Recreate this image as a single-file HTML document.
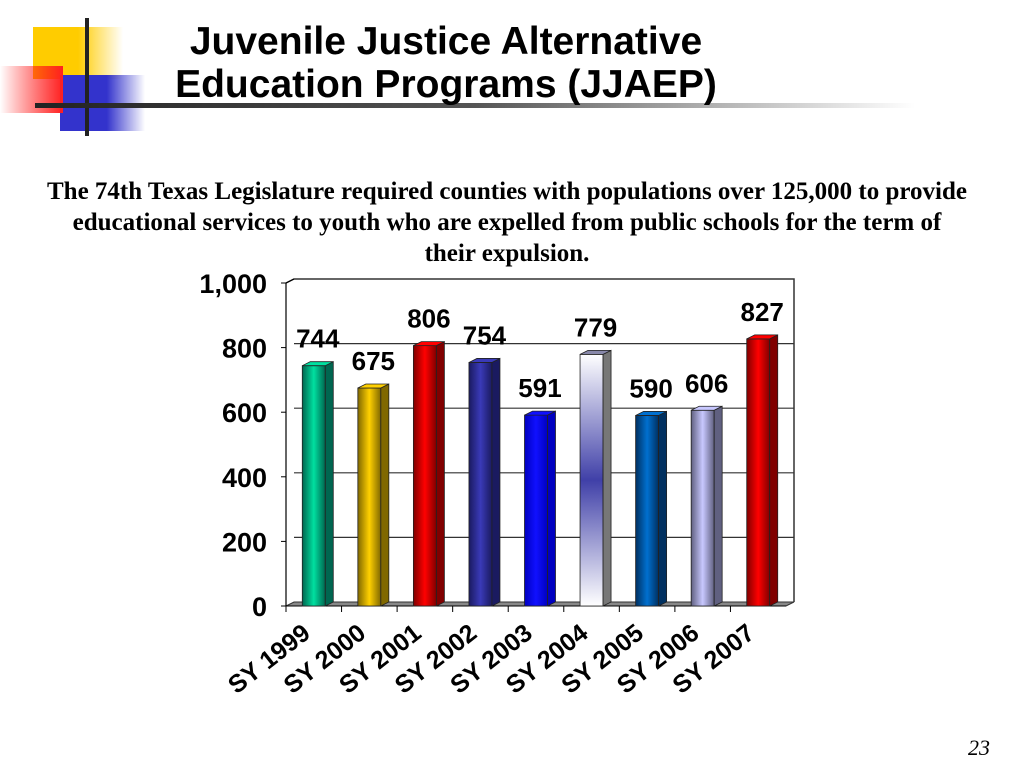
<!DOCTYPE html>
<html><head><meta charset="utf-8"><style>
body{margin:0;width:1024px;height:768px;background:#fff;overflow:hidden;position:relative;font-family:"Liberation Sans",Arial,sans-serif}
.title{position:absolute;left:96px;width:700px;top:20px;text-align:center;font-weight:bold;font-size:39px;line-height:43px;color:#000}
.sub{position:absolute;left:0px;width:1014px;top:176px;text-align:center;font-family:"Liberation Serif",serif;font-weight:bold;font-size:25px;line-height:31px}
.pg{position:absolute;left:968px;top:735px;font-family:"Liberation Serif",serif;font-style:italic;font-size:22px}
</style></head><body>
<svg width="240" height="140" style="position:absolute;left:0;top:0">
<defs>
<linearGradient id="ly" x1="0" x2="1"><stop offset="0.5" stop-color="#ffcc00"/><stop offset="1" stop-color="#ffcc00" stop-opacity="0"/></linearGradient>
<linearGradient id="lr" x1="0" x2="1"><stop offset="0" stop-color="#ff0000" stop-opacity="0"/><stop offset="1" stop-color="#ff2020"/></linearGradient>
<linearGradient id="lb" x1="0" x2="1"><stop offset="0.55" stop-color="#3333cc"/><stop offset="1" stop-color="#3333cc" stop-opacity="0"/></linearGradient>
</defs>
<rect x="33" y="27" width="90" height="52" fill="url(#ly)"/>
<rect x="60" y="75" width="85" height="56" fill="url(#lb)"/>
<rect x="0" y="66" width="63" height="47" fill="url(#lr)"/>
<rect x="85" y="18" width="4" height="118" fill="#222"/>
</svg>
<svg width="1024" height="10" style="position:absolute;left:0;top:100px">
<defs><linearGradient id="ul" x1="0" x2="1"><stop offset="0" stop-color="#222"/><stop offset="0.5" stop-color="#555"/><stop offset="1" stop-color="#fff"/></linearGradient></defs>
<rect x="35" y="3" width="880" height="5" fill="url(#ul)"/>
</svg>
<div class="title">Juvenile Justice Alternative<br>Education Programs (JJAEP)</div>
<div class="sub">The 74th Texas Legislature required counties with populations over 125,000 to provide<br>educational services to youth who are expelled from public schools for the term of<br>their expulsion.</div>
<div class="pg">23</div>
<svg id="chart" width="1024" height="768" style="position:absolute;left:0;top:0"></svg>
<script>
const categories=["SY 1999","SY 2000","SY 2001","SY 2002","SY 2003","SY 2004","SY 2005","SY 2006","SY 2007"];
const values=[744,675,806,754,591,779,590,606,827];
const tickValues=[0,200,400,600,800,1000];
const tickLabels=["0","200","400","600","800","1,000"];
const barColors=[["#006650","#00e0a0"],["#806800","#ffd000"],["#800000","#ff0000"],["#1a1a60","#3a3ab8"],["#0000c0","#1010ff"],["#ffffff","#4040a8"],["#003060","#0070d0"],["#606080","#c8c8ff"],["#800000","#ff0000"]];
const NS="http://www.w3.org/2000/svg";
const svg=document.getElementById('chart');
const X0=286,X1=786,Y0=606,Y1=283,DX=8,DY=-4;
const cw=(X1-X0)/categories.length;
function y(v){return Y0-(v-0)/1000*(Y0-Y1);}
function xc(i){return X0+cw*(i+0.5);}
function mk(t,a,p){const e=document.createElementNS(NS,t);for(const k in a)e.setAttribute(k,a[k]);(p||svg).appendChild(e);return e;}
const defs=mk('defs',{});
const wall=mk('polyline',{points:`${X0},${Y1} ${X0+DX},${Y1+DY} ${X1+DX},${Y1+DY} ${X1+DX},${Y0+DY}`,fill:'none',stroke:'#333','stroke-width':1.5});


tickValues.forEach((t,i)=>{
  if(t>0&&t<1000){const g=mk('line',{x1:X0+DX,x2:X1+DX,y1:y(t)+DY,y2:y(t)+DY,stroke:'#333','stroke-width':1.2});
  
  }
  const tk=mk('line',{x1:X0-5,x2:X0,y1:y(t),y2:y(t),stroke:'#000'});
  
  
  const tl=mk('text',{x:X0-19,y:y(t)+10,'text-anchor':'end','font-size':27,'font-weight':'bold','font-family':'Liberation Sans,Arial,sans-serif'});
  tl.textContent=tickLabels[i];
  
  
});
const fl=mk('polygon',{points:`${X0},${Y0} ${X0+DX},${Y0+DY} ${X1+DX},${Y0+DY} ${X1},${Y0}`,fill:'#888',stroke:'#333'});


mk('line',{x1:X0,x2:X0+DX,y1:Y1,y2:Y1+DY,stroke:'#000'});
const ya=mk('line',{x1:X0,x2:X0,y1:Y1,y2:Y0,stroke:'#000','stroke-width':1.2});


const xa=mk('line',{x1:X0,x2:X1,y1:Y0,y2:Y0,stroke:'#000'});


categories.forEach((c,i)=>{
  const tk=mk('line',{x1:X0+cw*i,x2:X0+cw*i,y1:Y0,y2:Y0+6,stroke:'#000'});
  
  
  const g=mk('linearGradient',{id:'g'+i,x1:0,x2:1},defs);
  mk('stop',{offset:0,'stop-color':barColors[i][0]},g);
  mk('stop',{offset:0.5,'stop-color':barColors[i][1]},g);
  mk('stop',{offset:1,'stop-color':barColors[i][0]},g);
  const bw=23,bx=xc(i)-bw/2,by=y(values[i]);
  if(i==5){const g2=mk('linearGradient',{id:'g5v',x1:0,x2:0,y1:0,y2:1},defs);
    mk('stop',{offset:0,'stop-color':'#fff'},g2);mk('stop',{offset:0.5,'stop-color':'#4040a8'},g2);mk('stop',{offset:1,'stop-color':'#fff'},g2);}
  const grp=mk('g',{});
  
  
  mk('rect',{x:bx,y:by,width:bw,height:Y0-by,fill:i==5?'url(#g5v)':'url(#g'+i+')',stroke:'#222','stroke-width':0.8},grp);
  mk('polygon',{points:`${bx+bw},${by} ${bx+bw+DX},${by+DY} ${bx+bw+DX},${Y0+DY} ${bx+bw},${Y0}`,fill:i==5?'#777':barColors[i][0],stroke:'#222','stroke-width':0.8},grp);
  mk('polygon',{points:`${bx},${by} ${bx+DX},${by+DY} ${bx+bw+DX},${by+DY} ${bx+bw},${by}`,fill:i==5?'#8888aa':barColors[i][1],stroke:'#222','stroke-width':0.8},grp);
  const vl=mk('text',{x:xc(i)+4,y:by-18,'text-anchor':'middle','font-size':26,'font-weight':'bold','font-family':'Liberation Sans,Arial,sans-serif'});
  vl.textContent=values[i];
  
  
  const xl=mk('text',{x:0,y:0,'text-anchor':'end','font-size':25,'font-weight':'bold','font-family':'Liberation Sans,Arial,sans-serif',transform:`translate(${xc(i)-2},${Y0+30}) rotate(-38)`});
  xl.textContent=c;
  
  
});
</script>
</body></html>
